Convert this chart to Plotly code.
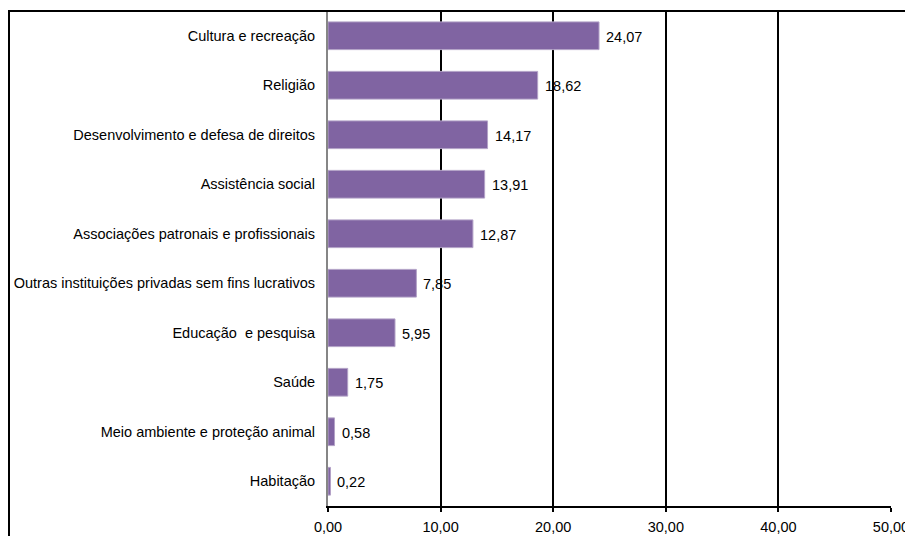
import plotly.graph_objects as go

categories = [
    "Cultura e recreação",
    "Religião",
    "Desenvolvimento e defesa de direitos",
    "Assistência social",
    "Associações patronais e profissionais",
    "Outras instituições privadas sem fins lucrativos",
    "Educação  e pesquisa",
    "Saúde",
    "Meio ambiente e proteção animal",
    "Habitação",
]
values = [24.07, 18.62, 14.17, 13.91, 12.87, 7.85, 5.95, 1.75, 0.58, 0.22]
x_ticks = [0, 10, 20, 30, 40, 50]
x_tick_labels = ["0,00", "10,00", "20,00", "30,00", "40,00", "50,00"]

FONT = "Liberation Sans, Arial, sans-serif"
FS = 14.5

fig = go.Figure()
fig.add_trace(go.Bar(
    y=categories,
    x=values,
    orientation="h",
    width=0.56,
    marker=dict(color="#8064A2", line=dict(color="#B3A2C7", width=1)),
    hoverinfo="x+y",
))

# value labels to the right of each bar
for cat, v in zip(categories, values):
    fig.add_annotation(
        x=v, y=cat, xref="x", yref="y",
        text=f"{v:.2f}".replace(".", ","),
        showarrow=False, xanchor="left", xshift=5, yshift=-1,
        font=dict(family=FONT, size=FS, color="#000000"),
    )

# outer chart frame
fig.add_shape(
    type="rect", xref="paper", yref="paper",
    x0=(9 - 328) / 563, x1=(960 - 328) / 563,
    y0=-0.2, y1=1.0,
    line=dict(color="#000000", width=2), layer="above",
)

fig.update_layout(
    width=905, height=536,
    margin=dict(l=328, r=14, t=11, b=30, autoexpand=False),
    paper_bgcolor="white", plot_bgcolor="white",
    showlegend=False,
    separators=",.",
    font=dict(family=FONT, size=FS, color="#000000"),
    xaxis=dict(
        range=[0, 50], tickvals=x_ticks, ticktext=x_tick_labels,
        showgrid=True, gridcolor="#000000", gridwidth=1.5,
        zeroline=False,
        showline=True, linecolor="#000000", linewidth=1.5,
        ticks="outside", ticklen=4, tickcolor="#000000", tickwidth=1.5,
        ticklabelstandoff=3, ticklabeloverflow="allow",
        tickfont=dict(family=FONT, size=FS),
        automargin=False,
        fixedrange=True,
    ),
    yaxis=dict(
        categoryorder="array", categoryarray=categories[::-1],
        showgrid=False, zeroline=False,
        showline=True, linecolor="#868686", linewidth=2,
        ticks="", ticklabelstandoff=8,
        tickfont=dict(family=FONT, size=FS),
        automargin=False,
        fixedrange=True,
    ),
)

fig.write_html("out.html")
